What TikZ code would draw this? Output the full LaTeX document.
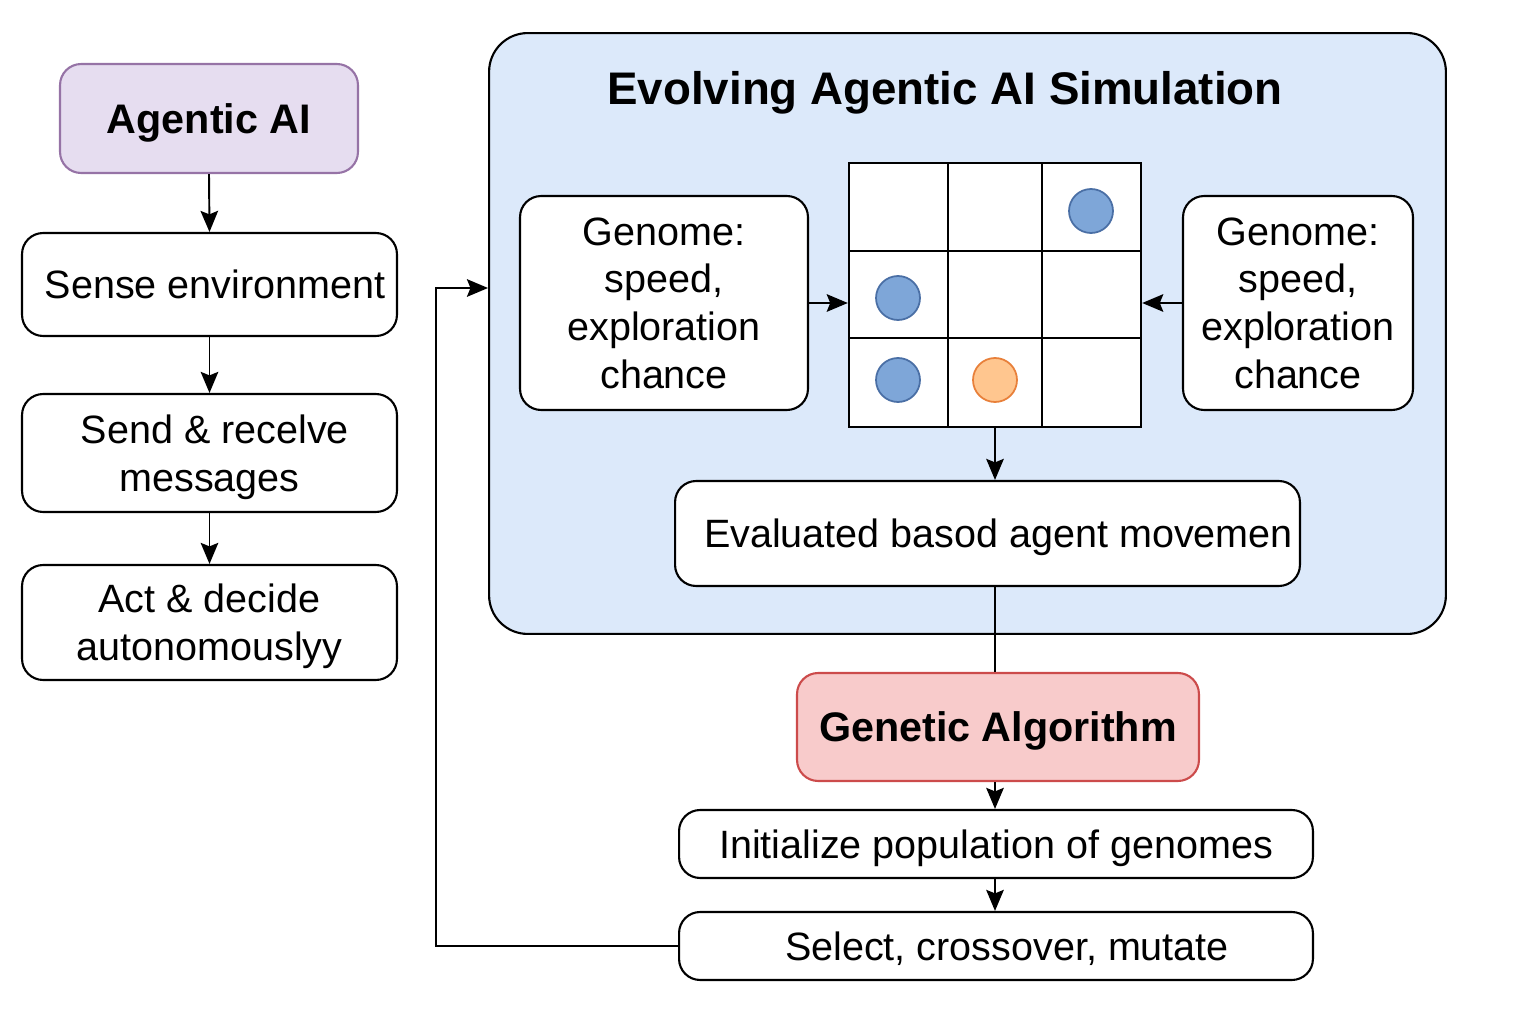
\documentclass[tikz,border=0pt]{standalone}
\usepackage{fontspec}
\setmainfont{Liberation Sans}
\usetikzlibrary{arrows.meta}
\definecolor{panelblue}{HTML}{DCE9FA}
\definecolor{agentfill}{HTML}{E6DDF0}
\definecolor{agentline}{HTML}{9673A6}
\definecolor{gafill}{HTML}{F8CBCB}
\definecolor{galine}{HTML}{CC4B4B}
\definecolor{dotblue}{HTML}{7EA6D8}
\definecolor{dotblueline}{HTML}{4A6FA5}
\definecolor{dotorange}{HTML}{FFC68F}
\definecolor{dotorangeline}{HTML}{E8803A}
\tikzset{
  procbox/.style={draw, fill=white, line width=1.2pt, rounded corners=12pt, align=center,
    inner sep=0pt, text depth=0pt, font=\fontsize{22.5}{27.2}\selectfont},
  headbox/.style={procbox, font=\bfseries\fontsize{23.5}{28}\selectfont},
  agentdot/.style={circle, draw=dotblueline, fill=dotblue, line width=1pt, minimum size=0.88cm, inner sep=0pt},
}
\begin{document}
\begin{tikzpicture}[x=0.02cm, y=-0.02cm, >={Stealth[length=12pt,width=10pt,inset=2pt]}, line width=1.1pt]
  \useasboundingbox (0,0) rectangle (1536,1024);
  % left column
  \node[headbox, fill=agentfill, draw=agentline, minimum width=5.96cm, minimum height=2.18cm] (agent) at (209,118.5) {Agentic AI};
  \node[procbox, minimum width=7.5cm, minimum height=2.06cm] (sense) at (209.5,284.5) {\ Sense environment};
  \node[procbox, minimum width=7.5cm, minimum height=2.36cm] (send) at (209.5,453) {\ Send \& recelve\\messages};
  \node[procbox, minimum width=7.5cm, minimum height=2.3cm] (act) at (209.5,622.5) {Act \& decide\\autonomouslyy};
  \draw[->] (agent.south) -- (sense.north);
  \draw[->] (sense.south) -- (send.north);
  \draw[->] (send.south) -- (act.north);
  % simulation panel
  \node[draw, fill=panelblue, line width=1.2pt, rounded corners=22pt, minimum width=19.14cm, minimum height=12.02cm] (panel) at (967.5,333.5) {};
  \node[font=\bfseries\fontsize{26}{30}\selectfont] (simtitle) at (945,93) {Evolving Agentic AI Simulation};
  \node[procbox, minimum width=5.76cm, minimum height=4.28cm] (genl) at (664,303) {Genome:\\speed,\\exploration\\chance};
  \node[procbox, minimum width=4.6cm, minimum height=4.28cm] (genr) at (1298,303) {Genome:\\speed,\\exploration\\chance};
  \node[draw, fill=white, line width=1.4pt, minimum width=5.84cm, minimum height=5.28cm, inner sep=0pt] (grid) at (995,295) {};
  \draw[line width=1.4pt] (948,163) -- (948,427) (1042,163) -- (1042,427)
    (849,251) -- (1141,251) (849,338) -- (1141,338);
  \node[agentdot] (dota) at (1091,211) {};
  \node[agentdot] (dotb) at (898,298) {};
  \node[agentdot] (dotc) at (898,380) {};
  \node[agentdot, draw=dotorangeline, fill=dotorange] (dotd) at (995,380) {};
  \draw[->] (genl.east) -- (genl.east -| grid.west);
  \draw[->] (genr.west) -- (genr.west -| grid.east);
  \node[procbox, minimum width=12.5cm, minimum height=2.1cm] (eval) at (987.5,533.5) {\ \ Evaluated basod agent movemen};
  \draw[->] (grid.south) -- (grid.south |- eval.north);
  % genetic algorithm
  \node[headbox, fill=gafill, draw=galine, minimum width=8.04cm, minimum height=2.16cm] (ga) at (998,727) {Genetic Algorithm};
  \node[procbox, minimum width=12.68cm, minimum height=1.36cm] (init) at (996,844) {Initialize population of genomes};
  \node[procbox, minimum width=12.68cm, minimum height=1.36cm] (sel) at (996,946) {\ \ Select, crossover, mutate};
  \draw (grid.south |- eval.south) -- (grid.south |- ga.north);
  \draw[->] (grid.south |- ga.south) -- (grid.south |- init.north);
  \draw[->] (grid.south |- init.south) -- (grid.south |- sel.north);
  % feedback loop
  \coordinate (loop) at (436,288);
  \draw[->] (sel.west) -| (loop) -- (panel.west |- loop);
\end{tikzpicture}
\end{document}
